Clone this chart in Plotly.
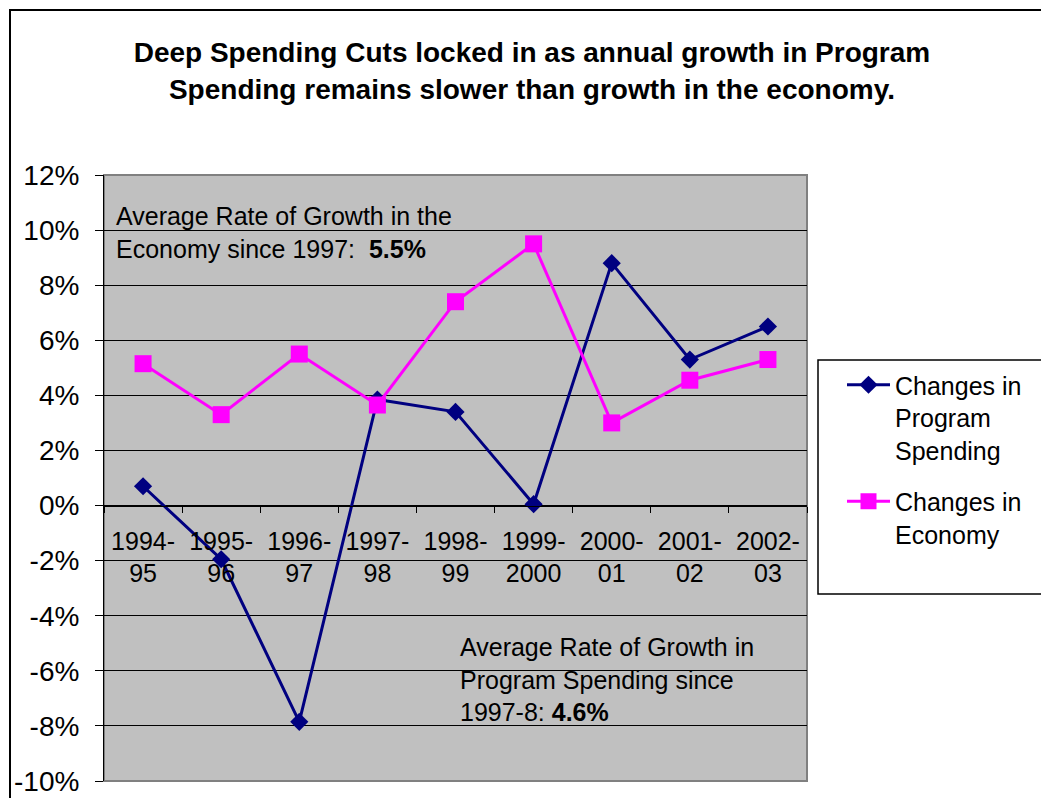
import plotly.graph_objects as go

# Fiscal years on the category axis
years = ["1994-95", "1995-96", "1996-97", "1997-98", "1998-99",
         "1999-2000", "2000-01", "2001-02", "2002-03"]
year_labels = ["1994-<br>95", "1995-<br>96", "1996-<br>97", "1997-<br>98", "1998-<br>99",
               "1999-<br>2000", "2000-<br>01", "2001-<br>02", "2002-<br>03"]

# Annual growth rates, percent
program_spending = [0.7, -1.95, -7.85, 3.85, 3.4, 0.05, 8.8, 5.3, 6.5]
economy = [5.15, 3.3, 5.5, 3.65, 7.4, 9.5, 3.0, 4.55, 5.3]

y_ticks = [-10, -8, -6, -4, -2, 0, 2, 4, 6, 8, 10, 12]

FONT = "Liberation Sans, Arial, sans-serif"
Y_MIN, Y_MAX = -10, 12

# plot area in pixels
L, R, T, B = 104, 807, 175, 781
W, H = R - L, B - T


def px_x(v):
    return (v - L) / W


def px_y(v):
    return (B - v) / H


fig = go.Figure()
fig.add_trace(go.Scatter(
    x=years, y=program_spending, mode="lines+markers",
    name="Changes in<br>Program<br>Spending", legendgroup="spending",
    line=dict(color="#000080", width=3),
    marker=dict(symbol="diamond", size=14, color="#000080"),
))
fig.add_trace(go.Scatter(
    x=years, y=economy, mode="lines+markers",
    name="Changes in<br>Economy", legendgroup="economy",
    line=dict(color="#FF00FF", width=3),
    marker=dict(symbol="square", size=17, color="#FF00FF"),
))

# category axis sits on the 0% line
zero_pos = (0 - Y_MIN) / (Y_MAX - Y_MIN)

fig.update_layout(
    width=1041, height=798,
    margin=dict(l=L, r=1041 - R, t=T, b=798 - B, autoexpand=False),
    paper_bgcolor="white",
    plot_bgcolor="#C0C0C0",
    font=dict(family=FONT, size=25, color="black"),
    title=dict(
        text="<b>Deep Spending Cuts locked in as annual growth in Program<br>"
             "Spending remains slower than growth in the economy.</b>",
        font=dict(family=FONT, size=28, color="black"),
        x=0.511, xref="container", xanchor="center",
        y=0.922, yref="container", yanchor="top",
    ),
    xaxis=dict(
        type="category",
        tickmode="array", tickvals=years, ticktext=year_labels,
        anchor="free", position=zero_pos,
        showline=True, linecolor="black", linewidth=1,
        ticks="outside", tickson="boundaries", ticklen=6, tickcolor="black",
        ticklabelstandoff=13,
        showgrid=False, zeroline=False, automargin=False,
        tickfont=dict(family=FONT, size=25),
        range=[-0.5, len(years) - 0.5],
        fixedrange=True,
    ),
    yaxis=dict(
        range=[Y_MIN, Y_MAX],
        tickmode="array", tickvals=y_ticks,
        ticktext=[f"{v}%" for v in y_ticks],
        showline=True, linecolor="black", linewidth=1,
        ticks="outside", ticklen=8, tickcolor="black",
        ticklabelstandoff=10,
        showgrid=True, gridcolor="black", gridwidth=1,
        zeroline=False, automargin=False,
        tickfont=dict(family=FONT, size=28),
        fixedrange=True,
    ),
    legend=dict(
        x=px_x(842), y=px_y(362),
        xanchor="left", yanchor="top",
        bgcolor="rgba(0,0,0,0)", borderwidth=0,
        font=dict(family=FONT, size=25),
        itemwidth=43, valign="top",
        tracegroupgap=16,
    ),
    showlegend=True,
)

# plot-area frame, legend box and outer chart border
fig.add_shape(type="rect", xref="paper", yref="paper", x0=0, x1=1, y0=0, y1=1,
              line=dict(color="#808080", width=2), layer="below")
fig.add_shape(type="rect", xref="paper", yref="paper",
              x0=px_x(818), x1=px_x(1060), y0=px_y(594), y1=px_y(360),
              fillcolor="white", line=dict(color="black", width=1.5))
fig.add_shape(type="rect", xref="paper", yref="paper",
              x0=px_x(10), x1=px_x(1100), y0=px_y(900), y1=px_y(10),
              line=dict(color="black", width=2))

fig.add_annotation(
    xref="paper", yref="paper", x=px_x(114), y=px_y(200),
    xanchor="left", yanchor="top", align="left", showarrow=False,
    text="Average Rate of Growth in the<br>Economy since 1997:  <b>5.5%</b>",
    font=dict(family=FONT, size=25),
)
fig.add_annotation(
    xref="paper", yref="paper", x=px_x(458), y=px_y(631),
    xanchor="left", yanchor="top", align="left", showarrow=False,
    text="Average Rate of Growth in<br>Program Spending since<br>1997-8: <b>4.6%</b>",
    font=dict(family=FONT, size=25),
)

fig.write_html("out.html")
